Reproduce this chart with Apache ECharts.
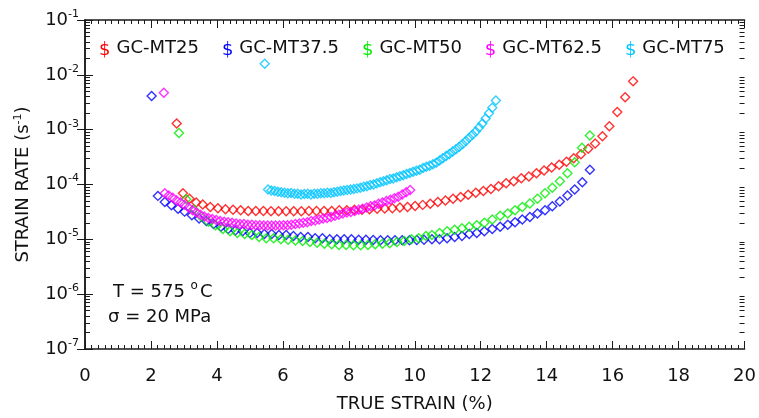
<!DOCTYPE html>
<html>
<head>
<meta charset="utf-8">
<script src="https://cdn.jsdelivr.net/npm/echarts@6/dist/echarts.min.js"></script>
<style>
  html, body { margin: 0; padding: 0; background: #fff; }
  #chart { width: 759px; height: 418px; }
</style>
</head>
<body>
<div id="chart"></div>
<script>
// [true strain %, strain rate 1/s]
const mt25 = [
  [2.78, 1.3e-3], [2.97, 6.9e-5], [3.17, 5.5e-5], [3.37, 4.7e-5], [3.57, 4.3e-5], [3.8, 3.9e-5],
  [4.03, 3.7e-5], [4.26, 3.55e-5], [4.49, 3.45e-5], [4.72, 3.4e-5], [4.95, 3.3e-5], [5.18, 3.3e-5],
  [5.41, 3.3e-5], [5.64, 3.25e-5], [5.87, 3.25e-5], [6.1, 3.25e-5], [6.33, 3.25e-5], [6.56, 3.25e-5],
  [6.79, 3.3e-5], [7.02, 3.3e-5], [7.25, 3.3e-5], [7.48, 3.3e-5], [7.71, 3.4e-5], [7.94, 3.4e-5],
  [8.17, 3.45e-5], [8.4, 3.45e-5], [8.63, 3.55e-5], [8.86, 3.6e-5], [9.09, 3.65e-5], [9.32, 3.7e-5],
  [9.55, 3.8e-5], [9.78, 3.9e-5], [10.01, 4.05e-5], [10.24, 4.25e-5], [10.47, 4.45e-5], [10.7, 4.8e-5],
  [10.93, 5.1e-5], [11.16, 5.5e-5], [11.39, 5.9e-5], [11.62, 6.5e-5], [11.85, 7.1e-5], [12.08, 7.6e-5],
  [12.31, 8.3e-5], [12.54, 9.3e-5], [12.77, 1.05e-4], [13.0, 1.15e-4], [13.23, 1.3e-4], [13.46, 1.4e-4],
  [13.69, 1.6e-4], [13.92, 1.8e-4], [14.15, 2.05e-4], [14.38, 2.3e-4], [14.6, 2.6e-4], [14.82, 3.0e-4],
  [15.04, 3.55e-4], [15.26, 4.5e-4], [15.47, 5.6e-4], [15.69, 7.6e-4], [15.9, 1.15e-3], [16.14, 2.1e-3],
  [16.38, 3.9e-3], [16.62, 7.6e-3]
]
const mt375 = [
  [2.02, 4.1e-3], [2.21, 6.2e-5], [2.42, 4.8e-5], [2.62, 4.2e-5], [2.82, 3.6e-5], [3.02, 3.2e-5],
  [3.24, 2.75e-5], [3.46, 2.4e-5], [3.68, 2.15e-5], [3.9, 1.9e-5], [4.12, 1.7e-5], [4.34, 1.55e-5],
  [4.56, 1.45e-5], [4.78, 1.4e-5], [5.0, 1.3e-5], [5.22, 1.3e-5], [5.44, 1.25e-5], [5.66, 1.25e-5],
  [5.88, 1.2e-5], [6.1, 1.2e-5], [6.32, 1.15e-5], [6.54, 1.1e-5], [6.76, 1.1e-5], [6.98, 1.05e-5],
  [7.2, 1.05e-5], [7.42, 1.0e-5], [7.64, 1.0e-5], [7.86, 1.0e-5], [8.08, 1.0e-5], [8.3, 9.8e-6],
  [8.52, 9.8e-6], [8.74, 9.7e-6], [8.96, 9.6e-6], [9.18, 9.6e-6], [9.4, 9.6e-6], [9.62, 9.6e-6],
  [9.84, 9.6e-6], [10.06, 9.7e-6], [10.28, 9.8e-6], [10.52, 1.0e-5], [10.75, 1.0e-5], [10.98, 1.05e-5],
  [11.21, 1.1e-5], [11.43, 1.15e-5], [11.65, 1.25e-5], [11.88, 1.3e-5], [12.11, 1.4e-5], [12.35, 1.55e-5],
  [12.59, 1.7e-5], [12.82, 1.85e-5], [13.04, 2.05e-5], [13.26, 2.3e-5], [13.49, 2.55e-5], [13.72, 2.95e-5],
  [13.95, 3.4e-5], [14.17, 4.0e-5], [14.4, 4.9e-5], [14.63, 6.3e-5], [14.85, 8.1e-5], [15.08, 1.1e-4],
  [15.31, 1.85e-4]
]
const mt50 = [
  [2.85, 8.7e-4], [3.07, 5.4e-5], [3.3, 3.5e-5], [3.52, 2.6e-5], [3.74, 2.1e-5], [3.96, 1.8e-5],
  [4.18, 1.55e-5], [4.4, 1.4e-5], [4.62, 1.3e-5], [4.84, 1.25e-5], [5.06, 1.2e-5], [5.28, 1.1e-5],
  [5.5, 1.05e-5], [5.72, 1.05e-5], [5.94, 1.0e-5], [6.16, 9.8e-6], [6.38, 9.5e-6], [6.6, 9.3e-6],
  [6.82, 8.9e-6], [7.04, 8.7e-6], [7.26, 8.3e-6], [7.48, 8.1e-6], [7.7, 7.9e-6], [7.92, 7.9e-6],
  [8.14, 7.8e-6], [8.36, 7.8e-6], [8.58, 7.9e-6], [8.8, 8.1e-6], [9.02, 8.3e-6], [9.24, 8.5e-6],
  [9.46, 8.9e-6], [9.68, 9.3e-6], [9.9, 1.0e-5], [10.12, 1.05e-5], [10.34, 1.15e-5], [10.52, 1.2e-5],
  [10.75, 1.3e-5], [10.98, 1.4e-5], [11.21, 1.5e-5], [11.43, 1.6e-5], [11.65, 1.7e-5], [11.88, 1.8e-5],
  [12.11, 2.0e-5], [12.35, 2.3e-5], [12.59, 2.7e-5], [12.82, 2.95e-5], [13.04, 3.4e-5], [13.26, 3.9e-5],
  [13.49, 4.5e-5], [13.72, 5.5e-5], [13.95, 6.9e-5], [14.17, 8.7e-5], [14.4, 1.15e-4], [14.63, 1.6e-4],
  [14.85, 2.55e-4], [15.07, 4.7e-4], [15.31, 7.8e-4]
]
const mt625 = [
  [2.39, 4.7e-3], [2.42, 6.9e-5], [2.54, 6.3e-5], [2.66, 5.75e-5], [2.78, 5.1e-5], [2.9, 4.7e-5],
  [3.02, 4.25e-5], [3.14, 3.8e-5], [3.26, 3.4e-5], [3.38, 3.1e-5], [3.5, 2.8e-5], [3.62, 2.6e-5],
  [3.74, 2.45e-5], [3.86, 2.35e-5], [3.98, 2.25e-5], [4.1, 2.15e-5], [4.22, 2.1e-5], [4.34, 2.05e-5],
  [4.46, 2.0e-5], [4.58, 1.95e-5], [4.7, 1.9e-5], [4.82, 1.9e-5], [4.94, 1.85e-5], [5.06, 1.85e-5],
  [5.18, 1.8e-5], [5.3, 1.8e-5], [5.42, 1.78e-5], [5.54, 1.78e-5], [5.66, 1.78e-5], [5.78, 1.78e-5],
  [5.9, 1.78e-5], [6.02, 1.8e-5], [6.14, 1.8e-5], [6.26, 1.85e-5], [6.38, 1.9e-5], [6.5, 1.95e-5],
  [6.62, 2.0e-5], [6.74, 2.05e-5], [6.86, 2.15e-5], [6.98, 2.2e-5], [7.1, 2.3e-5], [7.22, 2.4e-5],
  [7.34, 2.45e-5], [7.46, 2.55e-5], [7.58, 2.7e-5], [7.7, 2.8e-5], [7.82, 2.95e-5], [7.94, 3.1e-5],
  [8.06, 3.15e-5], [8.18, 3.3e-5], [8.3, 3.45e-5], [8.42, 3.6e-5], [8.54, 3.8e-5], [8.66, 4.0e-5],
  [8.78, 4.15e-5], [8.9, 4.45e-5], [9.02, 4.7e-5], [9.14, 5.0e-5], [9.26, 5.25e-5], [9.38, 5.6e-5],
  [9.5, 6.0e-5], [9.62, 6.6e-5], [9.74, 7.2e-5], [9.86, 7.9e-5]
]
const mt75 = [
  [5.45, 1.6e-2], [5.55, 8.1e-5], [5.65, 7.8e-5], [5.75, 7.6e-5], [5.85, 7.4e-5], [5.95, 7.2e-5],
  [6.05, 7.1e-5], [6.15, 6.9e-5], [6.25, 7.0e-5], [6.35, 6.8e-5], [6.45, 6.8e-5], [6.55, 6.6e-5],
  [6.65, 6.7e-5], [6.75, 6.8e-5], [6.85, 6.6e-5], [6.95, 6.8e-5], [7.05, 6.8e-5], [7.15, 6.9e-5],
  [7.25, 6.9e-5], [7.35, 7.1e-5], [7.45, 7.0e-5], [7.55, 7.2e-5], [7.65, 7.4e-5], [7.75, 7.6e-5],
  [7.85, 7.8e-5], [7.95, 7.9e-5], [8.05, 8.1e-5], [8.15, 8.3e-5], [8.25, 8.5e-5], [8.35, 8.7e-5],
  [8.45, 9.1e-5], [8.55, 9.3e-5], [8.65, 9.8e-5], [8.75, 1.0e-4], [8.85, 1.05e-4], [8.95, 1.1e-4],
  [9.05, 1.15e-4], [9.15, 1.2e-4], [9.25, 1.26e-4], [9.35, 1.29e-4], [9.45, 1.35e-4], [9.55, 1.41e-4],
  [9.65, 1.48e-4], [9.75, 1.55e-4], [9.85, 1.62e-4], [9.95, 1.7e-4], [10.05, 1.78e-4], [10.15, 1.86e-4],
  [10.25, 2.0e-4], [10.35, 2.1e-4], [10.45, 2.2e-4], [10.55, 2.35e-4], [10.65, 2.5e-4], [10.75, 2.75e-4],
  [10.85, 3.0e-4], [10.95, 3.3e-4], [11.05, 3.6e-4], [11.15, 4.0e-4], [11.25, 4.4e-4], [11.35, 4.9e-4],
  [11.45, 5.5e-4], [11.55, 6.2e-4], [11.65, 7.1e-4], [11.75, 8.1e-4], [11.85, 9.3e-4], [11.95, 1.1e-3],
  [12.05, 1.3e-3], [12.15, 1.6e-3], [12.25, 2.0e-3], [12.35, 2.5e-3], [12.46, 3.4e-3]
]

const seriesNames = ['GC-MT25', 'GC-MT37.5', 'GC-MT50', 'GC-MT62.5', 'GC-MT75']
const seriesData = [mt25, mt375, mt50, mt625, mt75]
const colors = ['#ff0000', '#0000ff', '#00ee00', '#ff00ff', '#00c4ff']
const richKeys = ['r', 'b', 'g', 'm', 'c']

// minor ticks of the log axis (2..9 in each decade), placed on a linear
// helper axis that runs over the exponents -7..-1
const minorLogTicks = []
for (let e = -7; e < -1; e++) {
  for (let m = 2; m < 10; m++) minorLogTicks.push(e + Math.log10(m))
}

const font = 'DejaVu Sans'
const axisColor = '#1a1a1a'

const chart = echarts.init(document.getElementById('chart'))

const legendRich = {}
richKeys.forEach((k, i) => {
  legendRich[k] = { color: colors[i], fontSize: 18, fontFamily: font, padding: [4, 6, 0, 0] }
})

const xBase = {
  type: 'value',
  min: 0,
  max: 20,
  interval: 2,
  axisLine: { show: true, lineStyle: { color: axisColor, width: 1.5 } },
  axisTick: { show: true, inside: true, length: 8, lineStyle: { color: axisColor, width: 1 } },
  minorTick: { show: true, splitNumber: 10, length: 4, lineStyle: { color: axisColor, width: 1 } },
  splitLine: { show: false }
}

const yBase = {
  type: 'log',
  logBase: 10,
  min: 1e-7,
  max: 1e-1,
  axisLine: { show: true, lineStyle: { color: axisColor, width: 1.5 } },
  axisTick: { show: true, inside: true, length: 8, lineStyle: { color: axisColor, width: 1 } },
  splitLine: { show: false }
}

const yMinor = {
  type: 'value',
  min: -7,
  max: -1,
  axisLine: { show: false },
  axisLabel: { show: false },
  axisTick: { show: true, inside: true, length: 5, customValues: minorLogTicks, lineStyle: { color: axisColor, width: 1 } },
  splitLine: { show: false }
}

const option = {
  animation: false,
  backgroundColor: '#fff',
  grid: { left: 85, right: 12, top: 20, bottom: 68 },
  legend: {
    data: seriesNames,
    top: 34,
    left: 88,
    icon: 'rect',
    itemWidth: 0,
    itemHeight: 0,
    itemGap: 17,
    selectedMode: false,
    formatter: name => '{' + richKeys[seriesNames.indexOf(name)] + '|$}' + name,
    textStyle: { fontFamily: font, fontSize: 18, color: '#111', rich: legendRich }
  },
  xAxis: [
    Object.assign({}, xBase, {
      position: 'bottom',
      name: 'TRUE STRAIN (%)',
      nameLocation: 'middle',
      nameGap: 46,
      nameTextStyle: { fontFamily: font, fontSize: 18, color: '#111' },
      axisLabel: { fontFamily: font, fontSize: 18, color: '#111', margin: 18 }
    }),
    Object.assign({}, xBase, { position: 'top', axisLabel: { show: false } })
  ],
  yAxis: [
    Object.assign({}, yBase, {
      position: 'left',
      name: '{a|STRAIN RATE (s}{s|-1}{a|)}',
      nameLocation: 'middle',
      nameGap: 52,
      nameTextStyle: {
        rich: {
          a: { fontFamily: font, fontSize: 18, color: '#111' },
          s: { fontFamily: font, fontSize: 11, color: '#111', padding: [0, 0, 9, 0] }
        }
      },
      axisLabel: {
        margin: 6,
        formatter: v => '{b|10}{s|' + Math.round(Math.log10(v)) + '}',
        rich: {
          b: { fontFamily: font, fontSize: 18, color: '#111' },
          s: { fontFamily: font, fontSize: 11, color: '#111', padding: [0, 0, 12, 0] }
        }
      }
    }),
    Object.assign({}, yBase, { position: 'right', axisLabel: { show: false } }),
    Object.assign({}, yMinor, { position: 'left' }),
    Object.assign({}, yMinor, { position: 'right' })
  ],
  graphic: [
    {
      type: 'text',
      left: 113,
      top: 280,
      style: {
        text: '{a|T = 575 }{s|o}{a|C}',
        rich: {
          a: { fontFamily: font, fontSize: 18, fill: '#111' },
          s: { fontFamily: font, fontSize: 12, fill: '#111', padding: [0, 2, 12, 0] }
        }
      }
    },
    {
      type: 'text',
      left: 108,
      top: 308,
      style: { text: 'σ = 20 MPa', fontFamily: font, fontSize: 18, fill: '#111' }
    }
  ],
  series: seriesNames.map((name, i) => ({
    name,
    type: 'scatter',
    data: seriesData[i],
    symbol: 'diamond',
    symbolSize: 9,
    itemStyle: { color: 'rgba(0,0,0,0)', borderColor: colors[i], borderWidth: 1.4 },
    emphasis: { disabled: true }
  }))
}

chart.setOption(option)
</script>
</body>
</html>
